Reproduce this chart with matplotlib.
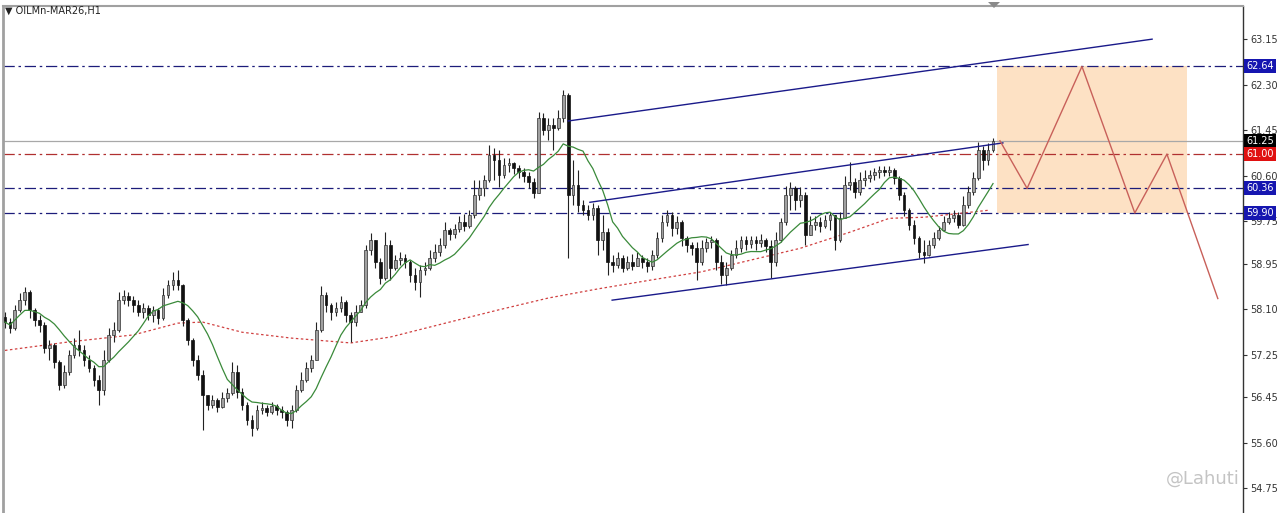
import numpy as np
import pandas as pd
import matplotlib
matplotlib.use("Agg")
import matplotlib.pyplot as plt
from matplotlib.patches import Rectangle, Polygon
from matplotlib.transforms import blended_transform_factory

# OILMn-MAR26 H1 candles (bar index = position)
first_open = 57.95
closes = [
    57.86, 57.75, 58.09, 58.27, 58.42, 58.09, 57.90, 57.80, 57.37, 57.43,
    57.11, 56.68, 56.93, 57.24, 57.43, 57.34, 57.15, 57.00, 56.78, 56.59,
    57.15, 57.62, 57.71, 58.27, 58.35, 58.27, 58.18, 58.05, 58.12, 57.99,
    58.09, 57.93, 58.37, 58.55, 58.65, 58.55, 57.90, 57.52, 57.15, 56.87,
    56.50, 56.31, 56.40, 56.27, 56.44, 56.53, 56.93, 56.55, 56.31, 56.03,
    55.88, 56.22, 56.25, 56.18, 56.29, 56.22, 56.18, 56.03, 56.22, 56.59,
    56.78, 57.00, 57.15, 57.71, 58.37, 58.18, 58.05, 58.12, 58.24, 57.99,
    57.86, 58.05, 58.18, 59.21, 59.39, 58.98, 58.68, 59.30, 58.87, 59.02,
    59.06, 58.98, 58.74, 58.61, 58.83, 58.87, 59.06, 59.17, 59.30, 59.58,
    59.51, 59.60, 59.73, 59.66, 59.86, 60.23, 60.37, 60.51, 60.98, 60.89,
    60.61, 60.79, 60.83, 60.74, 60.66, 60.59, 60.48, 60.27, 61.67, 61.45,
    61.54, 61.49, 61.67, 62.10, 60.23, 60.42, 60.05, 59.95, 59.86, 59.99,
    59.39, 59.54, 58.98, 58.93, 59.06, 58.87, 58.98, 58.91, 59.06, 58.98,
    58.91, 59.11, 59.43, 59.73, 59.86, 59.62, 59.73, 59.43, 59.30, 59.24,
    58.98, 59.24, 59.36, 59.39, 58.98, 58.74, 58.87, 59.11, 59.24, 59.39,
    59.32, 59.39, 59.34, 59.39, 59.28, 58.98, 59.39, 59.73, 60.23, 60.37,
    60.14, 60.23, 59.49, 59.67, 59.73, 59.66, 59.77, 59.86, 59.39, 59.80,
    60.42, 60.48, 60.29, 60.51, 60.55, 60.61, 60.66, 60.70, 60.66, 60.70,
    60.55, 60.23, 59.95, 59.67, 59.43, 59.17, 59.11, 59.30, 59.43, 59.58,
    59.73, 59.80, 59.86, 59.67, 60.05, 60.29, 60.55, 61.07, 60.89, 61.07,
    61.25,
]
highs = [
    58.05, 57.93, 58.18, 58.40, 58.51, 58.46, 58.12, 57.99, 57.86, 57.52,
    57.47, 57.15, 57.06, 57.34, 57.56, 57.71, 57.43, 57.24, 57.06, 56.87,
    57.34, 57.75, 57.86, 58.42, 58.46, 58.42, 58.35, 58.27, 58.22, 58.18,
    58.16, 58.12, 58.50, 58.65, 58.80, 58.83, 58.57, 57.93, 57.56, 57.24,
    56.96, 56.50, 56.50, 56.44, 56.55, 56.63, 57.11, 57.06, 56.63, 56.37,
    56.12, 56.31, 56.37, 56.31, 56.37, 56.33, 56.29, 56.22, 56.31, 56.68,
    56.93, 57.11, 57.24, 57.86, 58.53, 58.42, 58.22, 58.24, 58.35, 58.27,
    58.05, 58.18, 58.27, 59.30, 59.52, 59.39, 59.06, 59.54, 59.39, 59.11,
    59.17, 59.13, 59.02, 58.87, 58.93, 58.98, 59.21, 59.32, 59.43, 59.73,
    59.62, 59.69, 59.84, 59.88, 59.95, 60.51, 60.51, 60.61, 61.17, 61.11,
    61.07, 60.92, 60.92, 60.85, 60.79, 60.74, 60.66, 60.55, 61.79, 61.77,
    61.67, 61.67, 61.82, 62.20, 62.14, 60.89, 60.70, 60.14, 60.05, 60.09,
    60.05, 59.86, 59.62, 59.11, 59.17, 59.11, 59.09, 59.13, 59.17, 59.11,
    59.06, 59.21, 59.54, 59.86, 59.95, 59.92, 59.84, 59.77, 59.47, 59.36,
    59.36, 59.39, 59.43, 59.47, 59.43, 59.11, 58.98, 59.21, 59.39, 59.47,
    59.47, 59.47, 59.47, 59.51, 59.43, 59.39, 59.54, 59.80, 60.40, 60.48,
    60.40, 60.38, 60.29, 59.84, 59.84, 59.82, 59.86, 59.92, 59.73, 59.92,
    60.59, 60.85, 60.55, 60.66, 60.70, 60.70, 60.74, 60.78, 60.78, 60.78,
    60.74, 60.59, 60.29, 59.99, 59.77, 59.47, 59.39, 59.39, 59.54, 59.66,
    59.84, 59.92, 59.95, 59.92, 60.22, 60.40, 60.66, 61.22, 61.15, 61.20,
    61.30,
]
lows = [
    57.75, 57.66, 57.71, 58.05, 58.18, 57.93, 57.79, 57.67, 57.28, 57.15,
    57.00, 56.59, 56.63, 56.87, 57.19, 57.23, 57.04, 56.93, 56.66, 56.31,
    56.50, 57.11, 57.49, 57.67, 58.20, 58.16, 58.05, 57.97, 57.93, 57.90,
    57.86, 57.82, 57.90, 58.31, 58.46, 58.46, 57.79, 57.43, 57.04, 56.78,
    55.84, 56.22, 56.25, 56.18, 56.25, 56.37, 56.50, 56.44, 56.22, 55.94,
    55.73, 55.84, 56.14, 56.10, 56.14, 56.12, 56.06, 55.92, 55.88, 56.18,
    56.55, 56.74, 56.93, 57.15, 57.67, 58.05, 57.90, 57.97, 58.05, 57.86,
    57.49, 57.79, 58.09, 58.12, 59.11, 58.87, 58.57, 58.65, 58.65, 58.83,
    58.93, 58.87, 58.61, 58.46, 58.33, 58.74, 58.83, 58.98, 59.09, 59.24,
    59.39, 59.43, 59.54, 59.56, 59.62, 59.80, 60.14, 60.22, 60.48, 60.51,
    60.38, 60.55, 60.66, 60.63, 60.55, 60.48, 60.37, 60.18, 60.70, 61.36,
    61.26, 61.07, 61.45, 61.60, 59.06, 60.05, 59.92, 59.87, 59.77, 59.77,
    59.11, 59.21, 58.74, 58.80, 58.87, 58.80, 58.83, 58.83, 58.91, 58.87,
    58.80, 58.83, 59.06, 59.36, 59.66, 59.47, 59.51, 59.28, 59.17, 59.11,
    58.65, 58.93, 59.17, 59.24, 58.83, 58.57, 58.55, 58.83, 59.06, 59.17,
    59.21, 59.24, 59.21, 59.26, 59.17, 58.68, 58.91, 59.36, 59.67, 59.95,
    59.95, 60.01, 59.30, 59.54, 59.58, 59.54, 59.62, 59.58, 59.21, 59.36,
    59.84, 60.33, 60.18, 60.23, 60.40, 60.48, 60.51, 60.55, 60.59, 60.59,
    60.44, 60.14, 59.84, 59.58, 59.32, 59.06, 58.96, 59.09, 59.24, 59.39,
    59.58, 59.69, 59.73, 59.62, 59.66, 59.99, 60.23, 60.51, 60.70, 60.79,
    61.04,
]

# slow MA (red dotted) vertices
slow_ma_idx = [0, 13, 26, 35, 40, 48, 58, 70, 78, 90, 100, 110, 120, 131, 141, 151, 161, 171, 179, 186, 199]
slow_ma_val = [57.33, 57.49, 57.62, 57.84, 57.86, 57.67, 57.56, 57.47, 57.58, 57.86, 58.09, 58.31,
               58.48, 58.65, 58.80, 59.02, 59.24, 59.54, 59.80, 59.82, 59.95]

# channel lines: (x0, y0, x1, y1)
channel_lines = [
    (114.0, 61.62, 232.2, 63.15),
    (118.4, 60.10, 202.0, 61.21),
    (122.9, 58.27, 207.1, 59.31),
]

# projected zigzag
zigzag_idx = [201.4, 206.9, 218.0, 228.7, 235.2, 245.5]
zigzag_val = [61.25, 60.36, 62.64, 59.90, 61.00, 58.30]

# target box
box_x = (200.8, 239.3)
box_y = (59.90, 62.64)

# horizontal levels
dash_levels = [62.64, 61.00, 60.36, 59.90]
dash_colors = ["#1c1c7a", "#b03030", "#1c1c7a", "#1c1c7a"]
current_price = 61.25

price_labels = [62.64, 61.25, 61.00, 60.36, 59.90]
price_label_bg = ["#1616b0", "#000000", "#e01010", "#1616b0", "#1616b0"]

yticks = [63.15, 62.30, 61.45, 60.60, 59.75, 58.95, 58.10, 57.25, 56.45, 55.60, 54.75]

df = pd.DataFrame({"close": closes, "high": highs, "low": lows})
df["open"] = df["close"].shift(1).fillna(first_open)
df["ma_fast"] = df["close"].rolling(10, min_periods=1).mean()
x = np.arange(len(df))

fig = plt.figure(figsize=(12.8, 5.13), dpi=100)
ax = fig.add_axes([3 / 1280, 0, 1240 / 1280, 507 / 513])

# levels first, candles on top
for lvl, col in zip(dash_levels, dash_colors):
    ax.axhline(lvl, color=col, lw=0.9, ls=(0, (9, 3, 2, 3)), zorder=1)
ax.axhline(current_price, color="#a8a8a8", lw=0.9, zorder=1)

ax.add_patch(Rectangle((box_x[0], box_y[0]), box_x[1] - box_x[0], box_y[1] - box_y[0],
                       facecolor="#fde1c4", edgecolor="none", zorder=0.5))

up = df["close"] >= df["open"]
hi = np.maximum(df["high"], np.maximum(df["open"], df["close"]))
lo = np.minimum(df["low"], np.minimum(df["open"], df["close"]))
ax.vlines(x, lo, hi, color="#222222", lw=0.8, zorder=3)
body_lo = np.minimum(df["open"], df["close"])
body_h = np.abs(df["close"] - df["open"]).clip(lower=0.01)
ax.bar(x[up], body_h[up], bottom=body_lo[up], width=0.55, color="#a0a0a0",
       edgecolor="#303030", linewidth=0.5, zorder=4)
ax.bar(x[~up], body_h[~up], bottom=body_lo[~up], width=0.55, color="#111111",
       edgecolor="#111111", linewidth=0.5, zorder=4)

ax.plot(x, df["ma_fast"], color="#3a8a3a", lw=0.9, zorder=5)
ax.plot(slow_ma_idx, slow_ma_val, color="#d04040", lw=0.9, ls=(0, (2, 2)), zorder=2)

for x0, y0, x1, y1 in channel_lines:
    ax.plot([x0, x1], [y0, y1], color="#1a1a8a", lw=1.0, zorder=6)

ax.plot(zigzag_idx, zigzag_val, color="#c8605a", lw=1.0, zorder=6)

ax.set_xlim(-0.4, 250.6)
ax.set_ylim(54.29, 63.77)

ax.yaxis.tick_right()
ax.set_yticks(yticks)
ax.set_yticklabels([f"{v:.2f}" for v in yticks])
ax.tick_params(axis="y", direction="out", length=3, width=0.8, labelsize=7,
               colors="#333333", pad=2)
ax.set_xticks([])
ax.spines["right"].set_color("#333333")
ax.spines["right"].set_linewidth(1)
ax.spines["bottom"].set_visible(False)
ax.spines["top"].set_color("#a0a0a0")
ax.spines["top"].set_linewidth(1.5)
ax.spines["left"].set_color("#a0a0a0")
ax.spines["left"].set_linewidth(2)

tr = blended_transform_factory(ax.transAxes, ax.transData)
for lvl, bg in zip(price_labels, price_label_bg):
    ax.text(1.0025, lvl, f"{lvl:.2f}", transform=tr, fontsize=7, color="white",
            va="center", ha="left", zorder=10, clip_on=False,
            bbox=dict(boxstyle="square,pad=0.2", fc=bg, ec="none"))

fig.text(5 / 1280, 1 - 11 / 513, "\u25bc OILMn-MAR26,H1", fontsize=7, color="#222222",
         va="center", ha="left")
fig.patches.append(Polygon([[988 / 1280, 1 - 2 / 513], [1000 / 1280, 1 - 2 / 513],
                            [994 / 1280, 1 - 8 / 513]], closed=True, transform=fig.transFigure,
                           facecolor="#8a8a8a", edgecolor="none"))
fig.text(1240 / 1280, 1 - 479 / 513, "@Lahuti", fontsize=13, color="#c4c4c4",
         va="center", ha="right")

fig.savefig("out.png", dpi=100, facecolor="white")
